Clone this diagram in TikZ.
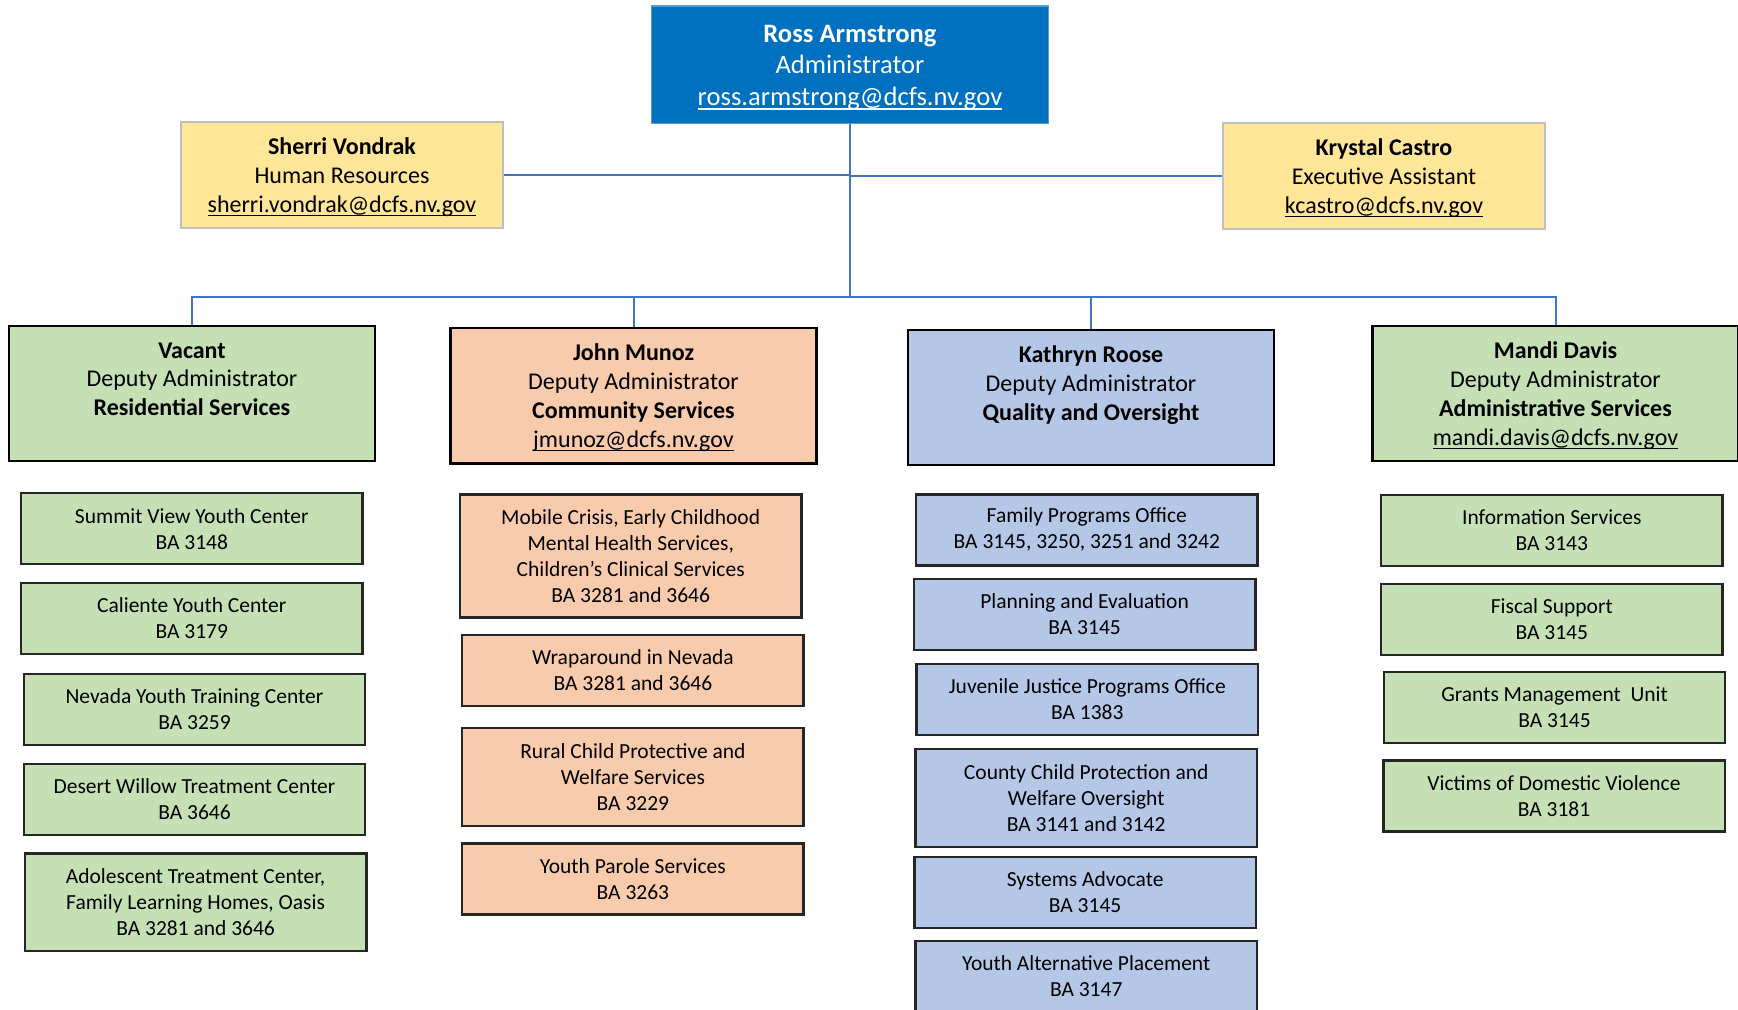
\documentclass[tikz,border=0pt]{standalone}
\usepackage{fontspec}
\setmainfont{Carlito}
\usepackage{tikz}

\definecolor{adminblue}{HTML}{0070C0}
\definecolor{adminedge}{HTML}{5B9BD5}
\definecolor{staffyellow}{HTML}{FFE699}
\definecolor{staffedge}{HTML}{BFBFBF}
\definecolor{resgreen}{HTML}{C5E0B4}
\definecolor{comorange}{HTML}{F8CBAD}
\definecolor{qualblue}{HTML}{B4C7E7}
\definecolor{linkblue}{HTML}{4472C4}

% e-mail line: underline close to the baseline, no depth
\newsavebox{\mailbox}
\newcommand{\mailline}[1]{\sbox{\mailbox}{#1}\raisebox{0pt}[\ht\mailbox][0pt]{\rlap{\usebox{\mailbox}}\rule[-0.17em]{\wd\mailbox}{0.065em}}}

\begin{document}
\begin{tikzpicture}
        [x=0.5pt, y=-0.5pt,
        topstyle/.style={rectangle, fill=adminblue, draw=adminedge, line width=0.7pt, text=white, align=center, inner sep=0pt,
            minimum width=198.5pt, minimum height=58.8pt, font=\fontsize{13.3pt}{15.8pt}\selectfont},
        staffstyle/.style={rectangle, fill=staffyellow, draw=staffedge, line width=1pt, align=center, inner sep=0pt,
            minimum width=161.2pt, minimum height=53.2pt, font=\fontsize{12pt}{14.4pt}\selectfont},
        depstyle/.style={rectangle, draw=black, line width=1.3pt, align=center, inner sep=0pt,
            minimum width=183pt, minimum height=67.5pt, font=\fontsize{12pt}{14.4pt}\selectfont},
        unitstyle/.style={rectangle, draw=black!85, line width=1.2pt, align=center, inner sep=0pt,
            minimum width=170.7pt, minimum height=35.5pt, font=\fontsize{10.75pt}{13pt}\selectfont},
        lstyle/.style={draw=linkblue, line width=1pt}]

        \useasboundingbox (0,0) rectangle (1738,1010);

        % top level
        \node[topstyle] (ross) at (850,65) {\textbf{Ross Armstrong}\\Administrator\\\mailline{ross.armstrong@dcfs.nv.gov}};
        \node[staffstyle] (hr) at (342,175) {\textbf{Sherri Vondrak}\\Human Resources\\\mailline{sherri.vondrak@dcfs.nv.gov}};
        \node[staffstyle] (exec) at (1384,176) {\textbf{Krystal Castro}\\Executive Assistant\\\mailline{kcastro@dcfs.nv.gov}};

        % deputies
        \node[depstyle, fill=resgreen] (resdep) at (192,393.5) {\textbf{Vacant}\\Deputy Administrator\\\textbf{Residential Services}\\\mbox{}};
        \node[depstyle, fill=comorange] (comdep) at (633.5,395.7) {\textbf{John Munoz}\\Deputy Administrator\\\textbf{Community Services}\\\mailline{jmunoz@dcfs.nv.gov}};
        \node[depstyle, fill=qualblue] (qualdep) at (1091,397.4) {\textbf{Kathryn Roose}\\Deputy Administrator\\\textbf{Quality and Oversight}\\\mbox{}};
        \node[depstyle, fill=resgreen] (admdep) at (1555.5,393.5) {\textbf{Mandi Davis}\\Deputy Administrator\\\textbf{Administrative Services}\\\mailline{mandi.davis@dcfs.nv.gov}};

        % residential services
        \node[unitstyle, fill=resgreen] (svyc) at (191.8,528.7) {Summit View Youth Center\\BA 3148};
        \node[unitstyle, fill=resgreen] (cyc) at (191.8,618.5) {Caliente Youth Center\\BA 3179};
        \node[unitstyle, fill=resgreen] (nytc) at (194.5,709.4) {Nevada Youth Training Center\\BA 3259};
        \node[unitstyle, fill=resgreen] (dwtc) at (194.5,799.2) {Desert Willow Treatment Center\\BA 3646};
        \node[unitstyle, fill=resgreen, minimum height=48.8pt] (atc) at (195.6,902.2) {Adolescent Treatment Center,\\Family Learning Homes, Oasis\\BA 3281 and 3646};

        % community services
        \node[unitstyle, fill=comorange, minimum height=61.5pt] (mcec) at (630.7,555.9) {Mobile Crisis, Early Childhood\\Mental Health Services,\\Children’s Clinical Services\\BA 3281 and 3646};
        \node[unitstyle, fill=comorange] (wrap) at (632.9,670.6) {Wraparound in Nevada\\BA 3281 and 3646};
        \node[unitstyle, fill=comorange, minimum height=48.8pt] (rural) at (632.9,777) {Rural Child Protective and\\Welfare Services\\BA 3229};
        \node[unitstyle, fill=comorange] (parole) at (632.9,879) {Youth Parole Services\\BA 3263};

        % quality and oversight
        \node[unitstyle, fill=qualblue] (fpo) at (1086.8,529.8) {Family Programs Office\\BA 3145, 3250, 3251 and 3242};
        \node[unitstyle, fill=qualblue] (plan) at (1084.6,614.6) {Planning and Evaluation\\BA 3145};
        \node[unitstyle, fill=qualblue] (jjpo) at (1087.3,699.4) {Juvenile Justice Programs Office\\BA 1383};
        \node[unitstyle, fill=qualblue, minimum height=48.8pt] (county) at (1086.2,798) {County Child Protection and\\Welfare Oversight\\BA 3141 and 3142};
        \node[unitstyle, fill=qualblue] (advo) at (1085.1,892.3) {Systems Advocate\\BA 3145};
        \node[unitstyle, fill=qualblue] (yap) at (1086.2,976.5) {Youth Alternative Placement\\BA 3147};

        % administrative services
        \node[unitstyle, fill=resgreen] (info) at (1551.8,530.4) {Information Services\\BA 3143};
        \node[unitstyle, fill=resgreen] (fiscal) at (1551.8,619.6) {Fiscal Support\\BA 3145};
        \node[unitstyle, fill=resgreen] (grants) at (1554.5,707.2) {Grants Management\ \ Unit\\BA 3145};
        \node[unitstyle, fill=resgreen] (victims) at (1554,795.9) {Victims of Domestic Violence\\BA 3181};

        % connectors
        \coordinate (bus) at (850,297);
        \draw[lstyle] (ross.south) -- (bus);
        \draw[lstyle] (hr.east) -- (hr.east -| ross.south);
        \draw[lstyle] (exec.west) -- (exec.west -| ross.south);
        \foreach \d in {resdep,comdep,qualdep,admdep}
            \draw[lstyle] (\d.north) |- (bus);
    \end{tikzpicture}
\end{document}
